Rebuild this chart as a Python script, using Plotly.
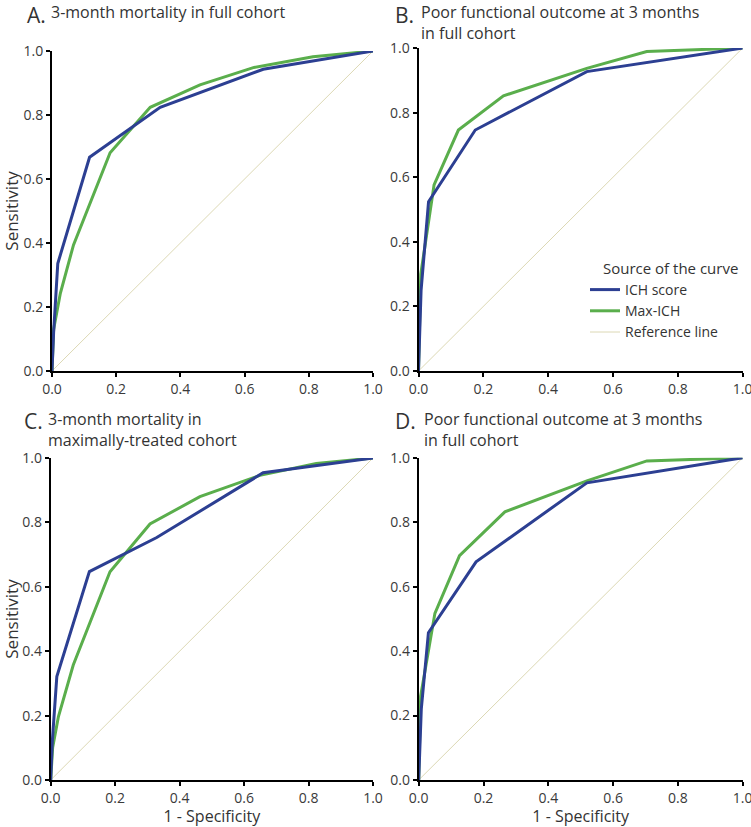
import plotly.graph_objects as go

W, H = 751, 827

# ---- data ----
tick_vals = [0.0, 0.2, 0.4, 0.6, 0.8, 1.0]
tick_text = ["0.0", "0.2", "0.4", "0.6", "0.8", "1.0"]

a_ich_x = [0.0, 0.005, 0.018, 0.117, 0.337, 0.658, 1.0]
a_ich_y = [0.0, 0.12, 0.336, 0.668, 0.824, 0.943, 1.0]
a_max_x = [0.0, 0.005, 0.026, 0.067, 0.181, 0.306, 0.461, 0.627, 0.813, 1.0]
a_max_y = [0.0, 0.13, 0.243, 0.394, 0.682, 0.824, 0.894, 0.948, 0.982, 1.0]

b_ich_x = [0.0, 0.008, 0.031, 0.175, 0.519, 1.0]
b_ich_y = [0.0, 0.25, 0.524, 0.746, 0.927, 1.0]
b_max_x = [0.0, 0.007, 0.048, 0.123, 0.262, 0.519, 0.704, 1.0]
b_max_y = [0.0, 0.30, 0.576, 0.746, 0.852, 0.937, 0.989, 1.0]

c_ich_x = [0.0, 0.005, 0.019, 0.120, 0.329, 0.659, 1.0]
c_ich_y = [0.0, 0.12, 0.321, 0.647, 0.753, 0.954, 1.0]
c_max_x = [0.0, 0.006, 0.024, 0.070, 0.184, 0.308, 0.463, 0.649, 0.824, 1.0]
c_max_y = [0.0, 0.10, 0.197, 0.357, 0.647, 0.795, 0.880, 0.946, 0.983, 1.0]

d_ich_x = [0.0, 0.008, 0.030, 0.177, 0.519, 1.0]
d_ich_y = [0.0, 0.22, 0.457, 0.677, 0.922, 1.0]
d_max_x = [0.0, 0.006, 0.050, 0.126, 0.266, 0.519, 0.704, 1.0]
d_max_y = [0.0, 0.26, 0.517, 0.696, 0.832, 0.928, 0.990, 1.0]

ref_x = [0.0, 1.0]
ref_y = [0.0, 1.0]

panel_letters = ["A.", "B.", "C.", "D."]
panel_titles = [
    "3-month mortality in full cohort",
    "Poor functional outcome at 3 months<br>in full cohort",
    "3-month mortality in<br>maximally-treated cohort",
    "Poor functional outcome at 3 months<br>in full cohort",
]
series_names = ["ICH score", "Max-ICH", "Reference line"]
legend_title = "Source of the curve"
y_title = "Sensitivity"
x_title = "1 - Specificity"

BLUE = "#2c3f92"
GREEN = "#5aae4c"
REF = "#dcd8b4"
FONT = "Open Sans"
TXT = "#333333"

# ---- layout geometry (pixels) ----
# (x0, x1, ytop, ybottom)
boxes = [
    (52, 373, 51, 371),
    (418.5, 742.7, 48, 371),
    (50.7, 373, 458, 780),
    (418.7, 742.7, 457.7, 780),
]

def px(x):
    return x / W

def py(y):
    return 1 - y / H

fig = go.Figure()

data = [
    (a_ich_x, a_ich_y, a_max_x, a_max_y),
    (b_ich_x, b_ich_y, b_max_x, b_max_y),
    (c_ich_x, c_ich_y, c_max_x, c_max_y),
    (d_ich_x, d_ich_y, d_max_x, d_max_y),
]

for i, (ix, iy, mx, my) in enumerate(data):
    n = "" if i == 0 else str(i + 1)
    xa, ya = "x" + n, "y" + n
    fig.add_trace(go.Scatter(x=ref_x, y=ref_y, mode="lines", name=series_names[2],
                             line=dict(color=REF, width=1), xaxis=xa, yaxis=ya,
                             showlegend=False))
    fig.add_trace(go.Scatter(x=mx, y=my, mode="lines", name=series_names[1],
                             line=dict(color=GREEN, width=3), xaxis=xa, yaxis=ya,
                             showlegend=False))
    fig.add_trace(go.Scatter(x=ix, y=iy, mode="lines", name=series_names[0],
                             line=dict(color=BLUE, width=3), xaxis=xa, yaxis=ya,
                             showlegend=False))

# legend entries
for name, col, w, rk in [(series_names[0], BLUE, 3, 1), (series_names[1], GREEN, 3, 2), (series_names[2], REF, 1, 3)]:
    fig.add_trace(go.Scatter(x=[None], y=[None], mode="lines", name=name,
                             line=dict(color=col, width=w), xaxis="x2", yaxis="y2",
                             showlegend=True, legendrank=rk))

axis_common = dict(range=[0, 1], showgrid=False, zeroline=False, showline=True,
                   linecolor="black", linewidth=2, ticks="outside", ticklen=4,
                   tickwidth=1.5, tickcolor="black", tickvals=tick_vals, ticktext=tick_text,
                   tickfont=dict(family=FONT, size=14, color="#3a3a3a"), fixedrange=True,
                   automargin=False, ticklabeloverflow="allow")

layout = dict(width=W, height=H, margin=dict(l=0, r=0, t=0, b=0, autoexpand=False),
              paper_bgcolor="white", plot_bgcolor="white",
              font=dict(family=FONT, color=TXT),
              showlegend=True,
              legend=dict(x=px(585), y=py(274), xanchor="left", yanchor="top",
                          bgcolor="rgba(0,0,0,0)", font=dict(family=FONT, size=14, color=TXT),
                          itemwidth=30, tracegroupgap=0))

for i, (x0, x1, yt, yb) in enumerate(boxes):
    n = "" if i == 0 else str(i + 1)
    xa = dict(axis_common, domain=[px(x0), px(x1)], anchor="y" + n)
    ya = dict(axis_common, domain=[py(yb), py(yt)], anchor="x" + n)
    if i in (0, 2):
        ya["title"] = dict(text=y_title, font=dict(family=FONT, size=17, color=TXT), standoff=4)
    if i in (2, 3):
        xa["title"] = dict(text=x_title, font=dict(family=FONT, size=16, color=TXT), standoff=6)
    layout["xaxis" + n] = xa
    layout["yaxis" + n] = ya

fig.update_layout(**layout)

# legend heading
fig.add_annotation(text=legend_title, x=px(601), y=py(268), xref="paper", yref="paper",
                   xanchor="left", yanchor="middle", showarrow=False,
                   font=dict(family=FONT, size=15, color=TXT))

# panel titles
letter_pos = [(25, -1), (393, -1), (22, 405), (393, 405)]
text_pos = [(49, -1), (419, -1), (46, 406), (422, 406)]
for i in range(4):
    lx, ly = letter_pos[i]
    tx, ty = text_pos[i]
    fig.add_annotation(text=panel_letters[i], x=px(lx), y=py(ly), xref="paper", yref="paper",
                       xanchor="left", yanchor="top", showarrow=False,
                       font=dict(family=FONT, size=21, color=TXT))
    fig.add_annotation(text=panel_titles[i], x=px(tx), y=py(ty), xref="paper", yref="paper",
                       xanchor="left", yanchor="top", showarrow=False, align="left",
                       font=dict(family=FONT, size=16, color=TXT))

fig.write_html("out.html", config={"displayModeBar": False},
               post_script="document.body.style.margin='0';")
